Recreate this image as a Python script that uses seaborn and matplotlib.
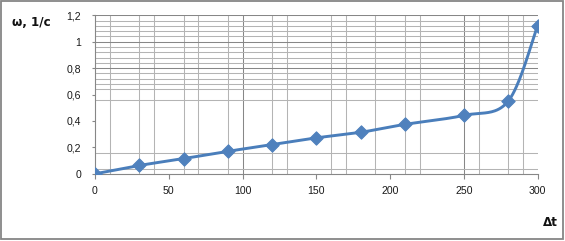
import numpy as np
import pandas as pd
import matplotlib
matplotlib.use("Agg")
import matplotlib.pyplot as plt
import seaborn as sns
from matplotlib.patches import Rectangle

# ---- data ----
dt = [0, 30, 60, 90, 120, 150, 180, 210, 250, 280, 300]
omega = [0.0, 0.063, 0.115, 0.170, 0.221, 0.272, 0.314, 0.374, 0.442, 0.548, 1.12]
x_ticks = [0, 50, 100, 150, 200, 250, 300]
y_ticks = [0, 0.2, 0.4, 0.6, 0.8, 1.0, 1.2]
y_tick_labels = ["0", "0,2", "0,4", "0,6", "0,8", "1", "1,2"]
y_label = "ω, 1/с"
x_label = "Δt"

df = pd.DataFrame({"dt": dt, "omega": omega})

# gridlines visible in the reference (styling)
v_minor = [10, 30, 40, 60, 70, 90, 120, 130, 160, 170, 190, 210, 220, 260, 280, 290]
v_major = [100, 250]
h_minor = [0.04, 0.16, 0.56, 0.64, 0.68, 0.72, 0.76, 0.84, 0.88, 0.92, 0.96,
           1.04, 1.08, 1.12, 1.16]
h_major = [0.8, 1.0, 1.2]


def smooth(xs, ys, n=40):
    """Excel-style smoothed line (Bezier through the points)."""
    P = np.column_stack([xs, ys]).astype(float)
    m = len(P)
    out = [P[0]]
    for i in range(m - 1):
        p0 = P[i - 1] if i > 0 else P[i]
        p1 = P[i]
        p2 = P[i + 1]
        p3 = P[i + 2] if i + 2 < m else P[i + 1]
        c1 = p1 + (p2 - p0) / 6.0
        c2 = p2 - (p3 - p1) / 6.0
        t = np.linspace(0, 1, n)[1:, None]
        seg = ((1 - t) ** 3) * p1 + 3 * ((1 - t) ** 2) * t * c1 + 3 * (1 - t) * t ** 2 * c2 + t ** 3 * p2
        out.extend(seg)
    out = np.array(out)
    return out[:, 0], out[:, 1]


sns.set_theme(style="white")
plt.rcParams["font.family"] = ["Liberation Sans", "DejaVu Sans"]

W, H = 565, 241
fig = plt.figure(figsize=(W / 100, H / 100), dpi=100)
fig.patch.set_facecolor("white")

left, right, top, bottom = 95.0, 537.5, 15.3, 173.8
ax = fig.add_axes([left / W, 1 - bottom / H, (right - left) / W, (bottom - top) / H])
ax.set_facecolor("white")

minor_c = "#B4B4B4"
major_c = "#878787"
glw = 0.75
for v in v_minor:
    ax.axvline(v, color=minor_c, lw=glw, zorder=0)
for v in v_major:
    ax.axvline(v, color=major_c, lw=glw, zorder=0)
for h in h_minor:
    ax.axhline(h, color=minor_c, lw=glw, zorder=0)
for h in h_major:
    ax.axhline(h, color=major_c, lw=glw, zorder=0)

sx, sy = smooth(df["dt"].values, df["omega"].values)
sm = pd.DataFrame({"x": sx, "y": sy})
sns.lineplot(data=sm, x="x", y="y", sort=False, color="#4A7EBB", lw=2.1, ax=ax, zorder=3)
sns.scatterplot(data=df, x="dt", y="omega", marker="D", s=46, color="#4F81BD",
                edgecolor="#4F81BD", linewidth=0.8, ax=ax, zorder=4)

ax.set_xlim(0, 300)
ax.set_ylim(0, 1.2)
ax.set_xticks(x_ticks)
ax.set_xticklabels([str(v) for v in x_ticks])
ax.set_yticks(y_ticks)
ax.set_yticklabels(y_tick_labels)
ax.set_xlabel("")
ax.set_ylabel("")

for s in ["top", "right"]:
    ax.spines[s].set_visible(False)
for s in ["left", "bottom"]:
    ax.spines[s].set_color(major_c)
    ax.spines[s].set_linewidth(0.8)

ax.tick_params(axis="x", direction="out", length=3.6, width=0.8, color=major_c,
               pad=5.5, labelsize=7.6, labelcolor="#1a1a1a")
ax.tick_params(axis="y", direction="out", length=2.4, width=0.8, color=major_c,
               pad=7.5, labelsize=7.6, labelcolor="#1a1a1a")
ax.tick_params(bottom=True, left=True)

fig.text(11.7 / W, 1 - 26 / H, y_label, fontsize=8.6, fontweight="bold",
         ha="left", va="baseline", family=["DejaVu Sans"], color="#111111")
fig.text(542.5 / W, 1 - 226 / H, x_label, fontsize=8.6, fontweight="bold",
         ha="left", va="baseline", family=["DejaVu Sans"], color="#111111")

fig.patches.append(Rectangle((0.5 / W, 2.0 / H), 562.5 / W, 238.5 / H,
                             transform=fig.transFigure, fill=False,
                             edgecolor="#868686", lw=1.3))

fig.savefig("out.png", dpi=100, facecolor="white")
